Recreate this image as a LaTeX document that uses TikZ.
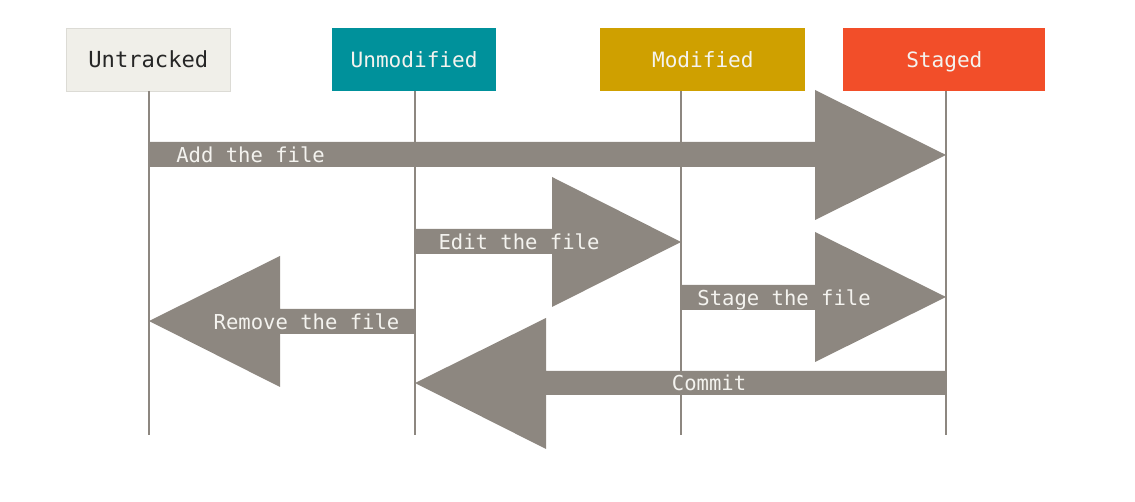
\documentclass[tikz,border=0pt]{standalone}
\usepackage{fontspec}
\setmonofont{DejaVu Sans Mono}
\usepackage{tikz}
\usetikzlibrary{calc}
\definecolor{untrackedbg}{HTML}{F0EFE9}
\definecolor{untrackedline}{HTML}{DCDBD5}
\definecolor{unmodifiedbg}{HTML}{00919B}
\definecolor{modifiedbg}{HTML}{CFA000}
\definecolor{stagedbg}{HTML}{F24E29}
\definecolor{flowgray}{HTML}{8D8780}
\definecolor{paletext}{HTML}{F4F3EF}

\begin{document}
\begin{tikzpicture}[x=0.02cm, y=-0.02cm,
    state/.style={anchor=north west, minimum height=1.26cm, inner sep=0pt,
        text height=8.8pt, text depth=0pt,
        font=\ttfamily\fontsize{12}{14}\selectfont, text=paletext},
    flow/.style={fill=flowgray},
    flowlabel/.style={font=\ttfamily\fontsize{11.7}{14}\selectfont, text=paletext,
        inner sep=0pt, text height=8.6pt, text depth=0pt},
    life/.style={draw=flowgray, line width=1.1pt}]
    \useasboundingbox (0,0) rectangle (1135,502);

    % States
    \node[state, minimum width=3.28cm, fill=untrackedbg, draw=untrackedline, text=black!85,
        font=\ttfamily\fontsize{12.6}{14}\selectfont] (untracked) at (66,28) {Untracked};
    \node[state, minimum width=3.27cm, fill=unmodifiedbg] (unmodified) at (332,28) {Unmodified};
    \node[state, minimum width=4.1cm, fill=modifiedbg] (modified) at (600,28) {Modified};
    \node[state, minimum width=4.04cm, fill=stagedbg] (staged) at (843,28) {Staged};

    % Lifelines
    \coordinate (lu) at (149,91);
    \coordinate (lm) at (415,91);
    \coordinate (lo) at (681,91);
    \coordinate (ls) at (946,91);
    \foreach \c in {lu,lm,lo,ls}
        \draw[life] (\c) -- ($(\c)+(0,344)$);

    % Add the file
    \fill[flow] (149,142) -- (815,142) -- (815,90) -- (946,155) -- (815,220)
        -- (815,167) -- (149,167) -- cycle;
    \node[flowlabel, anchor=west] (addlbl) at (176,155) {Add the file};

    % Edit the file
    \fill[flow] (415,229) -- (552,229) -- (552,177) -- (681,242) -- (552,307)
        -- (552,254) -- (415,254) -- cycle;
    \node[flowlabel] (editlbl) at (519,242) {Edit the file};

    % Stage the file
    \fill[flow] (681,285) -- (815,285) -- (815,232) -- (946,297) -- (815,362)
        -- (815,310) -- (681,310) -- cycle;
    \node[flowlabel] (stagelbl) at (784,297.5) {Stage the file};

    % Remove the file
    \fill[flow] (415,309) -- (280,309) -- (280,256) -- (149,321) -- (280,387)
        -- (280,334) -- (415,334) -- cycle;
    \node[flowlabel] (removelbl) at (306.5,321.5) {Remove the file};

    % Commit
    \fill[flow] (946,371) -- (546,371) -- (546,318) -- (415,383) -- (546,449)
        -- (546,395) -- (946,395) -- cycle;
    \node[flowlabel] (commitlbl) at (709,383) {Commit};
\end{tikzpicture}
\end{document}
